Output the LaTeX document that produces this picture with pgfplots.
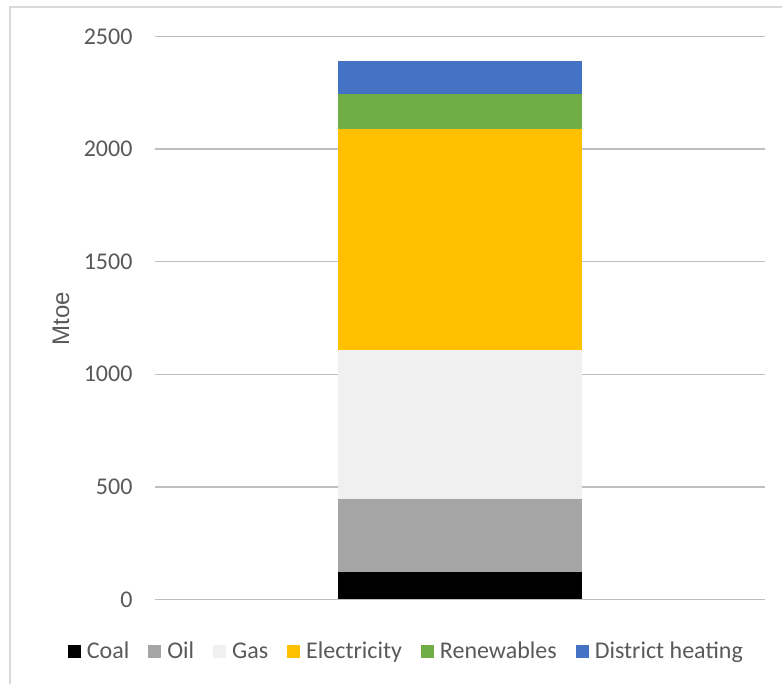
\documentclass[border=0pt]{standalone}
\usepackage{pgfplots}
\pgfplotsset{compat=1.18}
\usepackage{fontspec}
\setmainfont{Carlito}
\newfontfamily\arialf{Liberation Sans}
\definecolor{txt}{HTML}{595959}
\definecolor{grid}{HTML}{D9D9D9}
\definecolor{coal}{HTML}{000000}
\definecolor{oil}{HTML}{A5A5A5}
\definecolor{gas}{HTML}{F0F0F0}
\definecolor{elec}{HTML}{FFC000}
\definecolor{ren}{HTML}{70AD47}
\definecolor{dh}{HTML}{4472C4}
\begin{document}
\begin{tikzpicture}[x=1pt,y=1pt]
\path[use as bounding box] (0,0) rectangle (782,-684);
\draw[grid, line width=1.5pt] (10,-684) -- (10,-7) -- (782,-7);
\begin{axis}[
  at={(155pt,-599.3pt)}, anchor=south west,
  scale only axis, width=610pt, height=562.6pt,
  xmin=-1.25, xmax=1.25, ymin=0, ymax=2500,
  ybar stacked, bar width=244pt,
  xtick=\empty,
  ytick={0,500,1000,1500,2000,2500},
  ymajorgrids, major grid style={grid, line width=1.5pt},
  axis line style={draw=none},
  major tick length=0pt,
  /pgf/number format/assume math mode=true,
  /pgf/number format/1000 sep={},
  ticklabel style={font=\fontsize{24}{28}\selectfont, text=txt},
  yticklabel style={xshift=-19pt},
  ylabel={\arialf\fontsize{24}{28}\selectfont Mtoe},
  ylabel style={text=txt, at={(axis description cs:-0.154,0.499)}, anchor=center, rotate=0},
  legend columns=6,
  legend style={draw=none, fill=none, at={(axis description cs:0.412,-0.092)}, anchor=center,
    font=\fontsize{24}{28}\selectfont, text=txt,
    /tikz/every even column/.append style={column sep=17pt},
    /tikz/every odd column/.append style={column sep=4pt}},
  legend image code/.code={\fill[#1] (0pt,-6.5pt) rectangle (13pt,6.5pt);},
]
\addplot[fill=coal, draw=none] coordinates {(0,121)};
\addplot[fill=oil, draw=none] coordinates {(0,325)};
\addplot[fill=gas, draw=none] coordinates {(0,662)};
\addplot[fill=elec, draw=none] coordinates {(0,982)};
\addplot[fill=ren, draw=none] coordinates {(0,156)};
\addplot[fill=dh, draw=none] coordinates {(0,146)};
\legend{Coal,Oil,Gas,Electricity,Renewables,District heating}
\end{axis}
\end{tikzpicture}
\end{document}
